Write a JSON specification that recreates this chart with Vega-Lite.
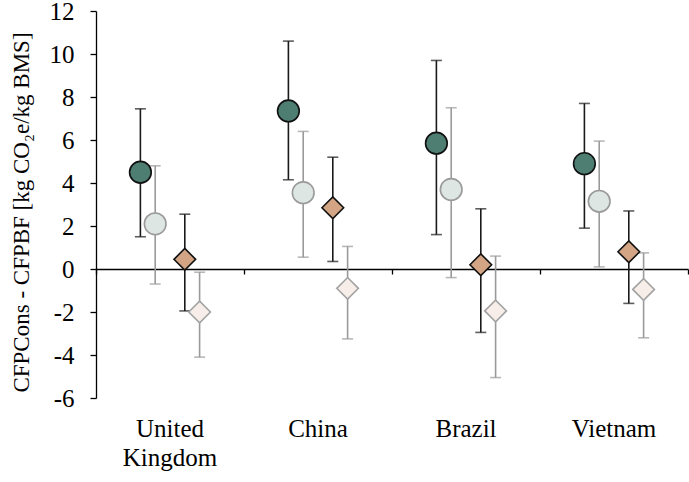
{
  "$schema": "https://vega.github.io/schema/vega-lite/v6.json",
  "width": 592,
  "height": 387,
  "autosize": {"type": "none"},
  "padding": {"left": 96, "top": 11, "right": 1, "bottom": 84},
  "background": "white",
  "config": {
    "view": {"stroke": null},
    "font": "Liberation Serif",
    "axis": {
      "labelFont": "Liberation Serif",
      "titleFont": "Liberation Serif",
      "labelColor": "black",
      "titleColor": "black",
      "labelFontSize": 25,
      "titleFontSize": 25,
      "titleFontWeight": "normal",
      "grid": false,
      "domainColor": "black",
      "tickColor": "black",
      "domainWidth": 1.3,
      "tickWidth": 1.3
    }
  },
  "data": {
    "values": [
      {"country": "United Kingdom", "series": "S1", "value": 4.5, "low": 1.5, "high": 7.45},
      {"country": "United Kingdom", "series": "S2", "value": 2.1, "low": -0.7, "high": 4.8},
      {"country": "United Kingdom", "series": "S3", "value": 0.45, "low": -1.95, "high": 2.55},
      {"country": "United Kingdom", "series": "S4", "value": -2.0, "low": -4.1, "high": -0.15},
      {"country": "China", "series": "S1", "value": 7.35, "low": 4.15, "high": 10.6},
      {"country": "China", "series": "S2", "value": 3.55, "low": 0.55, "high": 6.4},
      {"country": "China", "series": "S3", "value": 2.85, "low": 0.35, "high": 5.2},
      {"country": "China", "series": "S4", "value": -0.9, "low": -3.25, "high": 1.05},
      {"country": "Brazil", "series": "S1", "value": 5.85, "low": 1.6, "high": 9.7},
      {"country": "Brazil", "series": "S2", "value": 3.7, "low": -0.4, "high": 7.5},
      {"country": "Brazil", "series": "S3", "value": 0.2, "low": -2.95, "high": 2.8},
      {"country": "Brazil", "series": "S4", "value": -1.95, "low": -5.05, "high": 0.6},
      {"country": "Vietnam", "series": "S1", "value": 4.9, "low": 1.9, "high": 7.7},
      {"country": "Vietnam", "series": "S2", "value": 3.15, "low": 0.1, "high": 5.95},
      {"country": "Vietnam", "series": "S3", "value": 0.8, "low": -1.6, "high": 2.7},
      {"country": "Vietnam", "series": "S4", "value": -0.95, "low": -3.2, "high": 0.75}
    ]
  },
  "resolve": {"axis": {"x": "independent"}},
  "layer": [
    {
      "mark": {"type": "rule", "strokeWidth": 1.6},
      "encoding": {
        "x": {
          "field": "country", "type": "nominal",
          "sort": ["United Kingdom", "China", "Brazil", "Vietnam"],
          "scale": {"paddingInner": 0, "paddingOuter": 0},
          "axis": {
            "orient": "bottom", "domain": false, "ticks": false, "labelAngle": 0,
            "labelPadding": 18, "labelExpr": "split(datum.label, ' ')",
            "labelFont": "Liberation Serif", "labelFontSize": 25, "labelColor": "black",
            "labelLineHeight": 29, "title": null
          }
        },
        "xOffset": {"field": "series", "type": "nominal", "scale": {"type": "point", "domain": ["p1", "p2", "S1", "S2", "gap", "S3", "S4", "q1", "q2"], "padding": 1}},
        "y": {
          "field": "low", "type": "quantitative",
          "scale": {"domain": [-6, 12], "nice": false, "zero": false},
          "axis": {
            "values": [-6, -4, -2, 0, 2, 4, 6, 8, 10, 12],
            "labelExpr": "'' + datum.value",
            "tickSize": 6, "labelPadding": 16,
            "labelFont": "Liberation Serif", "labelFontSize": 25, "labelColor": "black",
            "title": "CFPCons - CFPBF [kg CO₂e/kg BMS]",
            "titleFont": "Liberation Serif", "titleFontSize": 23, "titleColor": "black", "titleFontWeight": "normal",
            "titlePadding": 16, "titleY": 201
          }
        },
        "y2": {"field": "high"},
        "color": {"field": "series", "type": "nominal", "scale": {"domain": ["S1", "S2", "S3", "S4"], "range": ["#1a1a1a", "#9a9a9a", "#1a1a1a", "#9a9a9a"]}, "legend": null}
      }
    },
    {
      "mark": {"type": "tick", "size": 11, "thickness": 1.6},
      "encoding": {
        "x": {
          "field": "country", "type": "nominal",
          "sort": ["United Kingdom", "China", "Brazil", "Vietnam"],
          "axis": {
            "orient": "bottom", "offset": -129, "labels": false, "domain": true,
            "ticks": true, "tickBand": "extent", "tickSize": 5, "title": null
          }
        },
        "xOffset": {"field": "series", "type": "nominal"},
        "y": {"field": "low", "type": "quantitative"},
        "color": {"field": "series", "type": "nominal", "legend": null}
      }
    },
    {
      "mark": {"type": "tick", "size": 11, "thickness": 1.6},
      "encoding": {
        "x": {"field": "country", "type": "nominal", "sort": ["United Kingdom", "China", "Brazil", "Vietnam"], "axis": null},
        "xOffset": {"field": "series", "type": "nominal"},
        "y": {"field": "high", "type": "quantitative"},
        "color": {"field": "series", "type": "nominal", "legend": null}
      }
    },
    {
      "mark": {"type": "point", "filled": true, "opacity": 1, "strokeWidth": 1.6},
      "encoding": {
        "x": {"field": "country", "type": "nominal", "sort": ["United Kingdom", "China", "Brazil", "Vietnam"], "axis": null},
        "xOffset": {"field": "series", "type": "nominal"},
        "y": {"field": "value", "type": "quantitative"},
        "fill": {"field": "series", "type": "nominal", "scale": {"domain": ["S1", "S2", "S3", "S4"], "range": ["#4e7d72", "#dde6e3", "#d3a584", "#f8eee9"]}, "legend": null},
        "stroke": {"field": "series", "type": "nominal", "scale": {"domain": ["S1", "S2", "S3", "S4"], "range": ["#111111", "#9a9a9a", "#111111", "#a3a3a3"]}, "legend": null},
        "shape": {"field": "series", "type": "nominal", "scale": {"domain": ["S1", "S2", "S3", "S4"], "range": ["circle", "circle", "diamond", "diamond"]}, "legend": null},
        "size": {"field": "series", "type": "ordinal", "scale": {"domain": ["S1", "S2", "S3", "S4"], "range": [470, 470, 560, 560]}, "legend": null}
      }
    }
  ]
}
